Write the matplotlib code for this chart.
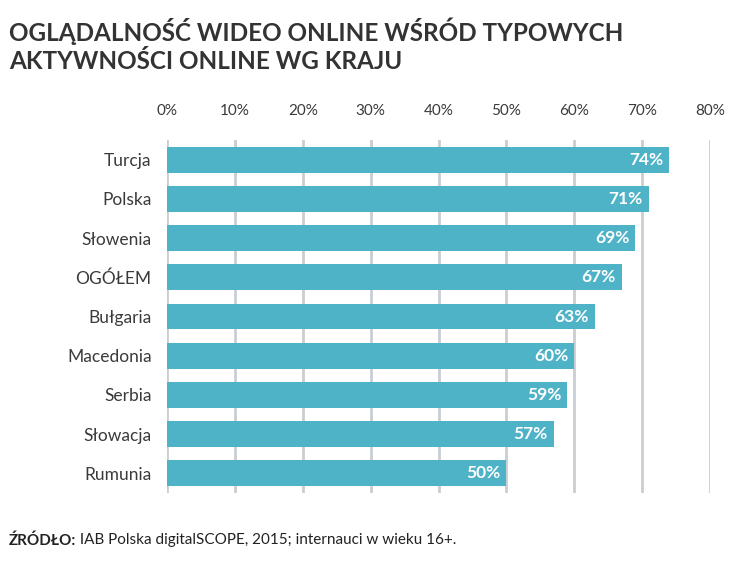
import matplotlib.pyplot as plt
from matplotlib.ticker import FuncFormatter

countries = ['Turcja', 'Polska', 'Słowenia', 'OGÓŁEM', 'Bułgaria',
             'Macedonia', 'Serbia', 'Słowacja', 'Rumunia']
values = [74, 71, 69, 67, 63, 60, 59, 57, 50]
ticks = [0, 10, 20, 30, 40, 50, 60, 70, 80]

bar_color = '#4FB3C8'
text_color = '#3a3a3a'

plt.rcParams['font.family'] = ['Lato', 'DejaVu Sans']

fig = plt.figure(figsize=(7.41, 5.76), dpi=100)
ax = fig.add_axes([0.2254, 0.144, 0.7328, 0.613])

y = list(range(len(countries)))
ax.barh(y, values, height=0.66, color=bar_color, zorder=3)
for yi, v in zip(y, values):
    ax.text(v - 0.9, yi, f'{v}%', ha='right', va='center', color='white',
            fontsize=12.5, fontweight='bold', zorder=4)

ax.set_xlim(0, 80)
ax.set_ylim(len(countries) - 0.5, -0.5)
ax.set_xticks(ticks)
ax.xaxis.set_major_formatter(FuncFormatter(lambda v, p: f'{int(v)}%'))
ax.xaxis.tick_top()
ax.set_yticks(y)
ax.set_yticklabels(countries)
ax.tick_params(axis='x', length=0, pad=16, labelsize=11, labelcolor=text_color)
ax.tick_params(axis='y', length=0, pad=11, labelsize=12.5, labelcolor=text_color)
ax.grid(axis='x', color='#c9ced3', linewidth=2, zorder=0)
for s in ax.spines.values():
    s.set_visible(False)

fig.text(0.012, 0.945, 'OGLĄDALNOŚĆ WIDEO ONLINE WŚRÓD TYPOWYCH',
         fontsize=17.5, fontweight='bold', color='#333333', va='center')
fig.text(0.012, 0.893, 'AKTYWNOŚCI ONLINE WG KRAJU',
         fontsize=17.5, fontweight='bold', color='#333333', va='center')

src = fig.text(0.012, 0.062, 'ŹRÓDŁO:', fontsize=11, fontweight='bold',
               color='#222222', va='center')
fig.canvas.draw()
ax.annotate(' IAB Polska digitalSCOPE, 2015; internauci w wieku 16+.',
            xy=(1, 0.5), xycoords=src, va='center', ha='left',
            fontsize=11, color='#222222')

fig.savefig('out.png', dpi=100)
